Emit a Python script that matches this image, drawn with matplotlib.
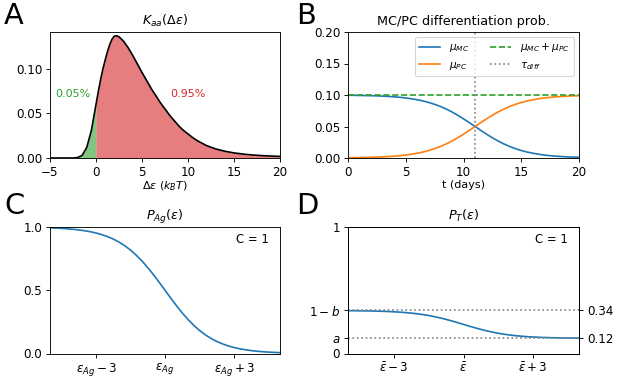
import numpy as np
import matplotlib
matplotlib.use("Agg")
import matplotlib.pyplot as plt

# ---------------- data ----------------
# Panel A: K_aa(Δε) curve
delta_eps = [-5.0, -3.0, -2.5, -2.0, -1.5, -1.0, -0.5, 0.0, 0.25, 0.5, 0.75, 1.0, 1.25, 1.5,
             1.75, 2.0, 2.25, 2.5, 3.0, 3.5, 4.0, 4.5, 5.0, 5.5, 6.0, 6.5, 7.0, 7.5, 8.0,
             8.5, 9.0, 9.5, 10.0, 10.5, 11.0, 12.0, 13.0, 14.0, 15.0, 16.0, 17.0, 18.0,
             19.0, 20.0]
k_aa = [0.0, 0.0, 0.0, 0.0005, 0.003, 0.012, 0.031, 0.060, 0.0745, 0.088, 0.100, 0.110,
        0.1195, 0.1275, 0.1335, 0.1368, 0.1372, 0.1360, 0.1310, 0.1237, 0.1150, 0.1055,
        0.0960, 0.0870, 0.0780, 0.0700, 0.0620, 0.0550, 0.0480, 0.0420, 0.0360, 0.0310,
        0.0270, 0.0230, 0.0195, 0.0140, 0.0102, 0.0076, 0.0057, 0.0044, 0.0034, 0.0027,
        0.0022, 0.0018]
frac_left_label = "0.05%"
frac_right_label = "0.95%"

# Panel B: differentiation probabilities
t_days = [0, 0.5, 1, 1.5, 2, 2.5, 3, 3.5, 4, 4.5, 5, 5.5, 6, 6.5, 7, 7.5, 8, 8.5, 9, 9.5,
          10, 10.5, 11, 11.5, 12, 12.5, 13, 13.5, 14, 14.5, 15, 15.5, 16, 16.5, 17, 17.5,
          18, 18.5, 19, 19.5, 20]
mu_pc = [0.0004, 0.0005, 0.0007, 0.0009, 0.0011, 0.0014, 0.0018, 0.0023, 0.0029, 0.0037,
         0.0047, 0.0060, 0.0076, 0.0095, 0.0119, 0.0148, 0.0182, 0.0223, 0.0269, 0.0321,
         0.0378, 0.0438, 0.0500, 0.0562, 0.0622, 0.0679, 0.0731, 0.0777, 0.0818, 0.0852,
         0.0881, 0.0905, 0.0924, 0.0940, 0.0953, 0.0963, 0.0971, 0.0977, 0.0982, 0.0986, 0.0989]
mu_mc = [0.0996, 0.0995, 0.0993, 0.0991, 0.0989, 0.0986, 0.0982, 0.0977, 0.0971, 0.0963,
         0.0953, 0.0940, 0.0924, 0.0905, 0.0881, 0.0852, 0.0818, 0.0777, 0.0731, 0.0679,
         0.0622, 0.0562, 0.0500, 0.0438, 0.0378, 0.0321, 0.0269, 0.0223, 0.0182, 0.0148,
         0.0119, 0.0095, 0.0076, 0.0060, 0.0047, 0.0037, 0.0029, 0.0023, 0.0018, 0.0014, 0.0011]
mu_total = 0.1
tau_diff = 11

# Panels C and D: energy offsets from the centre
eps_offset = [-5, -4.75, -4.5, -4.25, -4, -3.75, -3.5, -3.25, -3, -2.75, -2.5, -2.25, -2,
              -1.75, -1.5, -1.25, -1, -0.75, -0.5, -0.25, 0, 0.25, 0.5, 0.75, 1, 1.25,
              1.5, 1.75, 2, 2.25, 2.5, 2.75, 3, 3.25, 3.5, 3.75, 4, 4.25, 4.5, 4.75, 5]
p_ag = [0.9933, 0.9914, 0.9890, 0.9859, 0.9820, 0.9770, 0.9707, 0.9627, 0.9526, 0.9399,
        0.9241, 0.9047, 0.8808, 0.8520, 0.8176, 0.7773, 0.7311, 0.6792, 0.6225, 0.5622,
        0.5000, 0.4378, 0.3775, 0.3208, 0.2689, 0.2227, 0.1824, 0.1480, 0.1192, 0.0953,
        0.0759, 0.0601, 0.0474, 0.0373, 0.0293, 0.0230, 0.0180, 0.0141, 0.0110, 0.0086, 0.0067]
p_t = [0.3385, 0.3381, 0.3376, 0.3369, 0.3360, 0.3349, 0.3336, 0.3318, 0.3296, 0.3268,
       0.3233, 0.3190, 0.3138, 0.3074, 0.2999, 0.2910, 0.2808, 0.2694, 0.2569, 0.2437,
       0.2300, 0.2163, 0.2031, 0.1906, 0.1792, 0.1690, 0.1601, 0.1526, 0.1462, 0.1410,
       0.1367, 0.1332, 0.1304, 0.1282, 0.1264, 0.1251, 0.1240, 0.1231, 0.1224, 0.1219, 0.1215]
a_val = 0.12
one_minus_b = 0.34

c_ticks = [-3, 0, 3]
c_ticklabels = [r'$\varepsilon_{Ag}-3$', r'$\varepsilon_{Ag}$', r'$\varepsilon_{Ag}+3$']
d_ticklabels = [r'$\bar{\varepsilon}-3$', r'$\bar{\varepsilon}$', r'$\bar{\varepsilon}+3$']

# ---------------- figure ----------------
W, H = 617, 377
DPI = 80
plt.rcParams['xtick.labelsize'] = 10.7
plt.rcParams['ytick.labelsize'] = 10.7
plt.rcParams['axes.titlesize'] = 11.5
plt.rcParams['axes.labelsize'] = 10
plt.rcParams['legend.fontsize'] = 9.5

fig = plt.figure(figsize=(W / DPI, H / DPI), dpi=DPI)

def rect(l, r, t, b):
    return [l / W, 1 - b / H, (r - l) / W, (b - t) / H]

axA = fig.add_axes(rect(50, 280, 32, 158))
axB = fig.add_axes(rect(348, 579, 32, 158))
axC = fig.add_axes(rect(50, 280, 227, 353.5))
axD = fig.add_axes(rect(348, 579, 227, 353.5))

# Panel A
x = np.array(delta_eps)
y = np.array(k_aa)
axA.fill_between(x, y, where=x <= 0, color='tab:green', alpha=0.6, lw=0)
axA.fill_between(x, y, where=x >= 0, color='tab:red', alpha=0.6, lw=0)
axA.plot(x, y, color='k', lw=1.5)
axA.set_xlim(-5, 20)
axA.set_ylim(0, 0.1414)
axA.set_yticks([0, 0.05, 0.10])
axA.set_xticks([-5, 0, 5, 10, 15, 20])
axA.text(-2.5, 0.072, frac_left_label, color='tab:green', ha='center', va='center', fontsize=10)
axA.text(10.0, 0.072, frac_right_label, color='tab:red', ha='center', va='center', fontsize=10)
axA.set_title(r'$K_{aa}(\Delta\varepsilon)$')
axA.set_xlabel(r'$\Delta\varepsilon$ ($k_BT$)', labelpad=1)

# Panel B
axB.plot(t_days, mu_mc, color='tab:blue', label=r'$\mu_{MC}$')
axB.plot(t_days, mu_pc, color='tab:orange', label=r'$\mu_{PC}$')
axB.axhline(mu_total, color='tab:green', ls='--', label=r'$\mu_{MC}+\mu_{PC}$')
axB.axvline(tau_diff, color='gray', ls=':', label=r'$\tau_{diff}$')
axB.set_xlim(0, 20)
axB.set_ylim(0, 0.2)
axB.set_yticks([0, 0.05, 0.10, 0.15, 0.20])
axB.set_xticks([0, 5, 10, 15, 20])
axB.set_title('MC/PC differentiation prob.')
axB.set_xlabel('t (days)', labelpad=1)
axB.legend(ncol=2, loc='upper right')

# Panel C
axC.plot(eps_offset, p_ag, color='tab:blue')
axC.set_xlim(-5, 5)
axC.set_ylim(0, 1)
axC.set_yticks([0, 0.5, 1.0])
axC.set_xticks(c_ticks)
axC.set_xticklabels(c_ticklabels)
axC.set_title(r'$P_{Ag}(\varepsilon)$')
axC.text(0.95, 0.9, 'C = 1', transform=axC.transAxes, ha='right', va='center', fontsize=10.5)

# Panel D
axD.plot(eps_offset, p_t, color='tab:blue')
axD.axhline(one_minus_b, color='gray', ls=':')
axD.axhline(a_val, color='gray', ls=':')
axD.set_xlim(-5, 5)
axD.set_ylim(0, 1)
axD.set_yticks([0, a_val, one_minus_b, 1])
axD.set_yticklabels(['0', '$a$', '$1-b$', '1'])
axD.set_xticks(c_ticks)
axD.set_xticklabels(d_ticklabels)
axD.set_title(r'$P_T(\varepsilon)$')
axD.text(0.95, 0.9, 'C = 1', transform=axD.transAxes, ha='right', va='center', fontsize=10.5)
axD2 = axD.twinx()
axD2.set_ylim(0, 1)
axD2.set_yticks([a_val, one_minus_b])
axD2.set_yticklabels([f'{a_val:.2f}', f'{one_minus_b:.2f}'])

# panel letters
for lbl, px, py in [('A', 4, 2), ('B', 296, 2), ('C', 4, 192), ('D', 296, 192)]:
    fig.text(px / W, 1 - py / H, lbl, fontsize=26, ha='left', va='top')

fig.savefig('out.png', dpi=DPI)
